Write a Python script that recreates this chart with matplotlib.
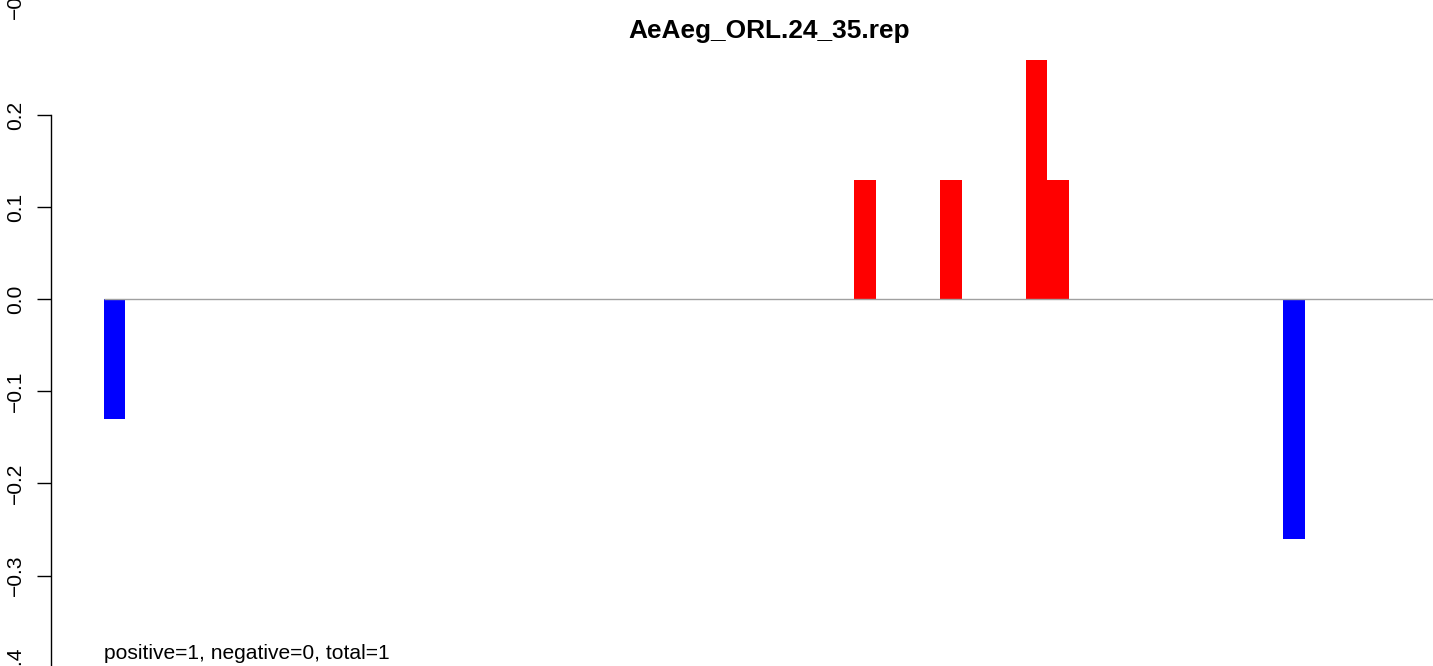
import matplotlib

matplotlib.use("Agg")
import matplotlib.pyplot as plt
from matplotlib.transforms import blended_transform_factory

plt.rcParams["font.family"] = ["Liberation Sans", "DejaVu Sans"]

# data
title = "AeAeg_ORL.24_35.rep"
note = "positive=1, negative=0, total=1"
n_positions = 62
bar_index = [0, 35, 39, 43, 44, 55]
bar_value = [-0.13, 0.13, 0.13, 0.26, 0.13, -0.26]
ytick_values = [0.2, 0.1, 0.0, -0.1, -0.2, -0.3, -0.4]
ytick_labels = ["0.2", "0.1", "0.0", "\u22120.1", "\u22120.2", "\u22120.3", "\u22120.4"]

W, H, DPI = 1433, 666, 100
fig = plt.figure(figsize=(W / DPI, H / DPI), dpi=DPI)

# plot region is larger than the canvas (the reference is a cropped panel)
left_px, width_px = 50.7, 1436.0
top_px, bottom_px = -50.0, 716.0
ax = fig.add_axes([left_px / W, (H - bottom_px) / H, width_px / W, (bottom_px - top_px) / H])

zero_px, px_per_unit = 299.5, 920.0
ax.set_ylim((zero_px - bottom_px) / px_per_unit, (zero_px - top_px) / px_per_unit)
pad = 0.04 * n_positions
ax.set_xlim(-pad, n_positions + pad)

colors = ["#FF0000" if v > 0 else "#0000FF" for v in bar_value]
ax.bar(bar_index, bar_value, width=1.0, align="edge", color=colors, linewidth=0, zorder=2)
ax.hlines(0, 0, n_positions, color="#A0A0A0", linewidth=1.0, zorder=3)

for side in ("top", "right", "bottom"):
    ax.spines[side].set_visible(False)
ax.spines["left"].set_bounds(min(ytick_values), max(ytick_values))
ax.spines["left"].set_linewidth(1.0)
ax.set_xticks([])
ax.set_yticks(ytick_values)
ax.set_yticklabels([])
ax.tick_params(axis="y", direction="out", length=9.9, width=1.0)

fs = 15.1
lab_tr = blended_transform_factory(fig.transFigure, ax.transData)
lab_x = 15.5 / W
for v, lab in zip(ytick_values, ytick_labels):
    ax.text(lab_x, v, lab, transform=lab_tr, rotation=90, ha="center", va="center",
            fontsize=fs, clip_on=False)
# remnant of the panel above
fig.text(lab_x, 1 + 2.0 / H, "\u22120.4", rotation=90, ha="center", va="center", fontsize=fs)

ax.text(0, (zero_px - 659) / px_per_unit, note, ha="left", va="baseline", fontsize=fs)

fig.text((left_px + width_px / 2) / W, 1 - 38 / H, title, ha="center", va="baseline",
         fontsize=18.9, fontweight="bold")

fig.savefig("out.png", dpi=DPI)
plt.close(fig)
